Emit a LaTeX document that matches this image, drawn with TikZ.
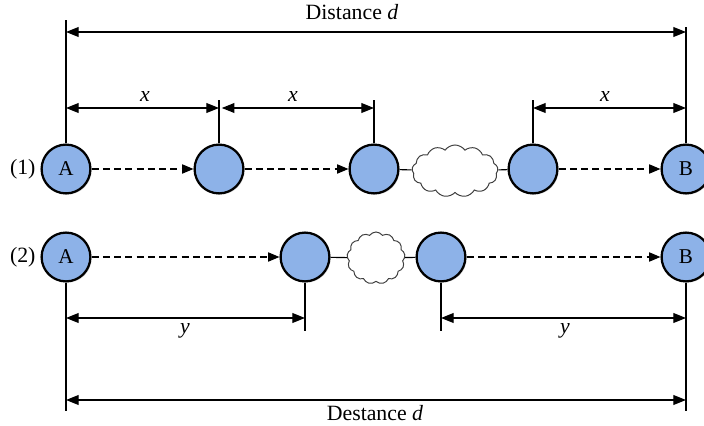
\documentclass[tikz,border=0pt]{standalone}
\usepackage{fontspec}
\setmainfont{Liberation Serif}
\usetikzlibrary{arrows.meta,positioning,shapes.symbols,shadows}
\definecolor{nodeblue}{RGB}{141,178,232}

\begin{document}
\begin{tikzpicture}[x=0.025cm,y=-0.025cm,
    station/.style={circle,draw=black,line width=1.6pt,fill=nodeblue,minimum size=1.22cm,inner sep=0pt,
      font=\fontsize{15}{18}\selectfont,drop shadow={shadow xshift=0.9pt,shadow yshift=-0.9pt,opacity=0.3}},
    gap/.style={cloud,cloud puffs=13,cloud puff arc=110,draw=black!75,line width=0.7pt,fill=white,inner sep=0pt},
    hop/.style={line width=0.9pt,dash pattern=on 5pt off 3pt,-{Triangle[length=8pt,width=6.5pt]}},
    link/.style={line width=0.8pt},
    tick/.style={line width=0.8pt},
    dimline/.style={line width=0.9pt,{Triangle[length=9pt,width=7pt]}-{Triangle[length=9pt,width=7pt]}},
    lbl/.style={font=\fontsize{15.5}{18}\selectfont}]
    \useasboundingbox (0,0) rectangle (704,426);
    % row (1)
    \node[station] (A1) at (66,169){A};
    \node[station] (n12) at (219,169){};
    \node[station] (n13) at (374,169){};
    \node[gap,minimum width=2.15cm,minimum height=1.3cm] (c1) at (455,171){};
    \node[station] (n14) at (533,169){};
    \node[station] (B1) at (686,169){B};
    \node[lbl,left=0pt of A1] (r1){(1)};
    \draw[hop] (A1) -- (n12);
    \draw[hop] (n12) -- (n13);
    \draw[link] (n13) -- (c1);
    \draw[link] (c1) -- (n14);
    \draw[hop] (n14) -- (B1);
    % row (2)
    \node[station] (A2) at (66,257){A};
    \node[station] (n22) at (305,257){};
    \node[gap,minimum width=1.45cm,minimum height=1.3cm] (c2) at (376,258){};
    \node[station] (n23) at (441,257){};
    \node[station] (B2) at (686,257){B};
    \node[lbl,left=0pt of A2] (r2){(2)};
    \draw[hop] (A2) -- (n22);
    \draw[link] (n22) -- (c2);
    \draw[link] (c2) -- (n23);
    \draw[hop] (n23) -- (B2);
    % extension lines
    \coordinate (ytopA) at (0,20);
    \coordinate (ytopB) at (0,27);
    \coordinate (yx) at (0,100);
    \coordinate (yy) at (0,331);
    \coordinate (ybot) at (0,411);
    \draw[tick] (A1.north) -- (A1.north |- ytopA);
    \draw[tick] (B1.north) -- (B1.north |- ytopB);
    \foreach \n in {n12,n13,n14}{\draw[tick] (\n.north) -- (\n.north |- yx);}
    \foreach \n in {A2,B2}{\draw[tick] (\n.south) -- (\n.south |- ybot);}
    \foreach \n in {n22,n23}{\draw[tick] (\n.south) -- (\n.south |- yy);}
    % dimensions
    \coordinate (dtop) at (0,32);
    \coordinate (dx) at (0,108);
    \coordinate (dy) at (0,318);
    \coordinate (dbot) at (0,400);
    \draw[dimline] (A1 |- dtop) -- (B1 |- dtop);
    \draw[dimline] (A1 |- dx) -- (n12 |- dx);
    \draw[dimline] ([xshift=2pt]n12 |- dx) -- (n13 |- dx);
    \draw[dimline] (n14 |- dx) -- (B1 |- dx);
    \draw[dimline] (A2 |- dy) -- (n22 |- dy);
    \draw[dimline] (n23 |- dy) -- (B2 |- dy);
    \draw[dimline] (A2 |- dbot) -- (B2 |- dbot);
    \node[lbl] (ltop) at (352,12){Distance \textit{d}};
    \node[lbl] (lx1) at (145,96){\textit{x}};
    \node[lbl] (lx2) at (293,96){\textit{x}};
    \node[lbl] (lx3) at (605,96){\textit{x}};
    \node[lbl] (ly1) at (185,331){\textit{y}};
    \node[lbl] (ly2) at (565,331){\textit{y}};
    \node[lbl] (lbot) at (375,413){Destance \textit{d}};
  \end{tikzpicture}
\end{document}
